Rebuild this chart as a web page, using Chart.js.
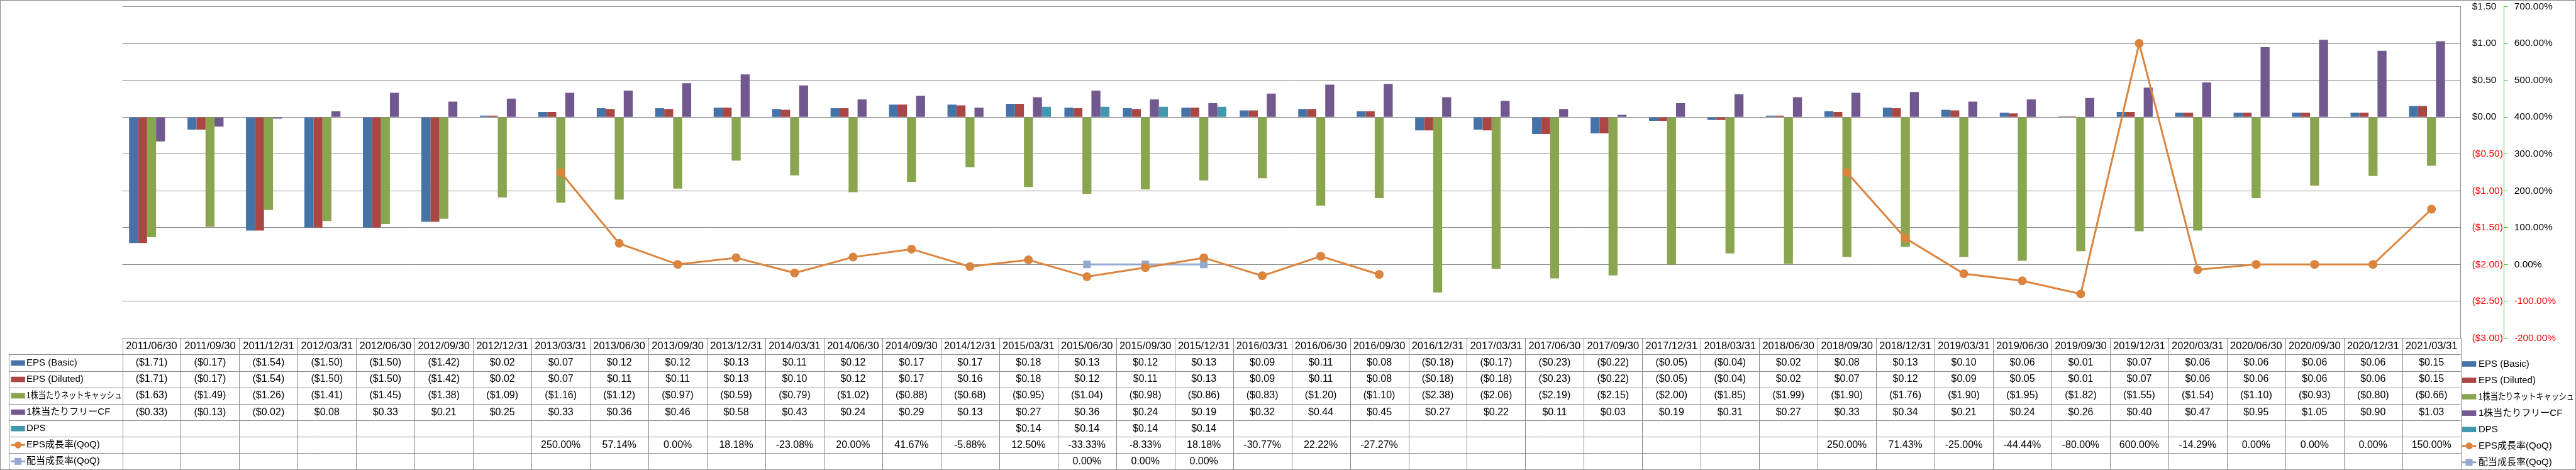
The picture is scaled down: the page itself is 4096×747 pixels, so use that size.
<!DOCTYPE html>
<html>
<head>
<meta charset="utf-8">
<script src="https://cdn.jsdelivr.net/npm/chart.js@4.4.1/dist/chart.umd.min.js"></script>
<style>
    html, body { margin: 0; padding: 0; background: #fff; overflow: hidden; }
    canvas { display: block; }
</style>
</head>
<body>
<canvas id="epsChart" width="4096" height="747"></canvas>
<script>
// ---------------- dados ----------------
const categories = [
    '2011/06/30', '2011/09/30', '2011/12/31',
    '2012/03/31', '2012/06/30', '2012/09/30', '2012/12/31',
    '2013/03/31', '2013/06/30', '2013/09/30', '2013/12/31',
    '2014/03/31', '2014/06/30', '2014/09/30', '2014/12/31',
    '2015/03/31', '2015/06/30', '2015/09/30', '2015/12/31',
    '2016/03/31', '2016/06/30', '2016/09/30', '2016/12/31',
    '2017/03/31', '2017/06/30', '2017/09/30', '2017/12/31',
    '2018/03/31', '2018/06/30', '2018/09/30', '2018/12/31',
    '2019/03/31', '2019/06/30', '2019/09/30', '2019/12/31',
    '2020/03/31', '2020/06/30', '2020/09/30', '2020/12/31',
    '2021/03/31'
];

const epsBasic = [-1.71, -0.17, -1.54, -1.50, -1.50, -1.42, 0.02, 0.07, 0.12, 0.12, 0.13, 0.11, 0.12, 0.17, 0.17, 0.18, 0.13, 0.12, 0.13, 0.09,
    0.11, 0.08, -0.18, -0.17, -0.23, -0.22, -0.05, -0.04, 0.02, 0.08, 0.13, 0.10, 0.06, 0.01, 0.07, 0.06, 0.06, 0.06, 0.06, 0.15];
const epsDiluted = [-1.71, -0.17, -1.54, -1.50, -1.50, -1.42, 0.02, 0.07, 0.11, 0.11, 0.13, 0.10, 0.12, 0.17, 0.16, 0.18, 0.12, 0.11, 0.13, 0.09,
    0.11, 0.08, -0.18, -0.18, -0.23, -0.22, -0.05, -0.04, 0.02, 0.07, 0.12, 0.09, 0.05, 0.01, 0.07, 0.06, 0.06, 0.06, 0.06, 0.15];
const netCashPerShare = [-1.63, -1.49, -1.26, -1.41, -1.45, -1.38, -1.09, -1.16, -1.12, -0.97, -0.59, -0.79, -1.02, -0.88, -0.68, -0.95, -1.04, -0.98, -0.86, -0.83,
    -1.20, -1.10, -2.38, -2.06, -2.19, -2.15, -2.00, -1.85, -1.99, -1.90, -1.76, -1.90, -1.95, -1.82, -1.55, -1.54, -1.10, -0.93, -0.80, -0.66];
const fcfPerShare = [-0.33, -0.13, -0.02, 0.08, 0.33, 0.21, 0.25, 0.33, 0.36, 0.46, 0.58, 0.43, 0.24, 0.29, 0.13, 0.27, 0.36, 0.24, 0.19, 0.32,
    0.44, 0.45, 0.27, 0.22, 0.11, 0.03, 0.19, 0.31, 0.27, 0.33, 0.34, 0.21, 0.24, 0.26, 0.40, 0.47, 0.95, 1.05, 0.90, 1.03];
const dps = [null, null, null, null, null, null, null, null, null, null, null, null, null, null, null, 0.14, 0.14, 0.14, 0.14, null,
    null, null, null, null, null, null, null, null, null, null, null, null, null, null, null, null, null, null, null, null];
const epsGrowth = [null, null, null, null, null, null, null, 250.00, 57.14, 0.00, 18.18, -23.08, 20.00, 41.67, -5.88, 12.50, -33.33, -8.33, 18.18, -30.77,
    22.22, -27.27, null, null, null, null, null, null, null, 250.00, 71.43, -25.00, -44.44, -80.00, 600.00, -14.29, 0.00, 0.00, 0.00, 150.00];
const dpsGrowth = [null, null, null, null, null, null, null, null, null, null, null, null, null, null, null, null, 0.00, 0.00, 0.00, null,
    null, null, null, null, null, null, null, null, null, null, null, null, null, null, null, null, null, null, null, null];

const moneyTicks = { min: -3, max: 1.5, step: 0.5 };
const pctTicks = { min: -200, max: 700, step: 100 };

// ---------------- layout (0.697 da referência) ----------------
const FONT = "'Liberation Sans', 'Noto Sans CJK JP', sans-serif";
const GRID = '#8a8a8a';
const ROW_H = 26.05;
const HEAD_LEFT = 14;

function fmtMoney(v) {
    if (v === null || v === undefined) return '';
    return v < 0 ? '($' + Math.abs(v).toFixed(2) + ')' : '$' + v.toFixed(2);
}
function fmtPct(v) {
    if (v === null || v === undefined) return '';
    return v.toFixed(2) + '%';
}

const series = [
    { label: 'EPS (Basic)', data: epsBasic, color: '#4572A7', kind: 'bar', fmt: fmtMoney },
    { label: 'EPS (Diluted)', data: epsDiluted, color: '#AA4643', kind: 'bar', fmt: fmtMoney },
    { label: '1株当たりネットキャッシュ', data: netCashPerShare, color: '#89A54E', kind: 'bar', fmt: fmtMoney },
    { label: '1株当たりフリーCF', data: fcfPerShare, color: '#71588F', kind: 'bar', fmt: fmtMoney },
    { label: 'DPS', data: dps, color: '#4198AF', kind: 'bar', fmt: fmtMoney },
    { label: 'EPS成長率(QoQ)', data: epsGrowth, color: '#DB843D', kind: 'line', marker: 'circle', fmt: fmtPct },
    { label: '配当成長率(QoQ)', data: dpsGrowth, color: '#93A9CF', kind: 'line', marker: 'rect', fmt: fmtPct }
];

function drawKey(ctx, s, x, y) {
    ctx.save();
    if (s.kind === 'bar') {
        ctx.fillStyle = s.color;
        ctx.fillRect(x, y - 4.3, 22.3, 8.6);
    } else {
        ctx.strokeStyle = s.color;
        ctx.lineWidth = 3;
        ctx.beginPath();
        ctx.moveTo(x, y);
        ctx.lineTo(x + 22.3, y);
        ctx.stroke();
        ctx.fillStyle = s.color;
        if (s.marker === 'circle') {
            ctx.beginPath();
            ctx.arc(x + 11.15, y, 5.5, 0, Math.PI * 2);
            ctx.fill();
        } else {
            ctx.fillRect(x + 5.5, y - 5.5, 11, 11);
        }
    }
    ctx.restore();
}

function drawLabel(ctx, text, x, y) {
    ctx.fillText(text, x, y, 152);
}

const tablePlugin = {
    id: 'dataTable',
    beforeDraw(chart) {
        const ctx = chart.ctx;
        ctx.save();
        ctx.fillStyle = '#fff';
        ctx.fillRect(0, 0, chart.width, chart.height);
        ctx.restore();
    },
    afterDraw(chart) {
        const { ctx, chartArea } = chart;
        const xs = chart.scales.x;
        const n = categories.length;
        const left = chartArea.left, right = chartArea.right;
        const colW = (right - left) / n;
        const top = chartArea.bottom;
        const rows = series.length + 1;
        const bottom = top + rows * ROW_H;
        const px = v => Math.round(v) + 0.5;

        ctx.save();
        ctx.strokeStyle = GRID;
        ctx.lineWidth = 1;
        ctx.beginPath();
        // linhas horizontais
        ctx.moveTo(left, px(top));
        ctx.lineTo(right, px(top));
        for (let r = 1; r <= rows; r++) {
            const y = px(top + r * ROW_H);
            ctx.moveTo(HEAD_LEFT, y);
            ctx.lineTo(right, y);
        }
        // linhas verticais
        for (let i = 0; i <= n; i++) {
            const x = px(left + i * colW);
            ctx.moveTo(x, top);
            ctx.lineTo(x, bottom);
        }
        ctx.moveTo(px(HEAD_LEFT), top + ROW_H);
        ctx.lineTo(px(HEAD_LEFT), bottom);
        ctx.stroke();

        // textos da tabela
        ctx.fillStyle = '#000';
        ctx.textBaseline = 'middle';
        ctx.textAlign = 'center';
        ctx.font = '16.5px ' + FONT;
        categories.forEach((c, i) => {
            ctx.fillText(c, xs.getPixelForValue(i), top + ROW_H / 2 + 0.5, colW - 4);
        });
        ctx.font = '16px ' + FONT;
        series.forEach((s, r) => {
            const cy = top + (r + 1.5) * ROW_H + 0.5;
            s.data.forEach((v, i) => {
                const t = s.fmt(v);
                if (t) ctx.fillText(t, xs.getPixelForValue(i), cy);
            });
        });

        // legenda à esquerda (cabeçalho de linhas) e à direita
        ctx.textAlign = 'left';
        ctx.font = '15px ' + FONT;
        series.forEach((s, r) => {
            const cy = top + (r + 1.5) * ROW_H + 0.5;
            drawKey(ctx, s, 17.5, cy);
            ctx.fillStyle = '#000';
            drawLabel(ctx, s.label, 42, cy);
            drawKey(ctx, s, 3915, cy + 1.5);
            ctx.fillStyle = '#000';
            drawLabel(ctx, s.label, 3941, cy + 1.5);
        });

        // borda externa
        ctx.strokeStyle = GRID;
        ctx.strokeRect(0.5, 0.5, chart.width - 1, chart.height - 1);
        ctx.restore();
    }
};

const datasets = series.map(s => {
    if (s.kind === 'bar') {
        return {
            type: 'bar', label: s.label, data: s.data, yAxisID: 'y',
            backgroundColor: s.color, borderWidth: 0, order: 1
        };
    }
    return {
        type: 'line', label: s.label, data: s.data, yAxisID: 'y1',
        borderColor: s.color, backgroundColor: s.color, borderWidth: 3,
        pointStyle: s.marker, pointRadius: s.marker === 'rect' ? 8.5 : 7,
        pointBackgroundColor: s.color, pointBorderColor: s.color, pointBorderWidth: 0,
        spanGaps: false, tension: 0, order: 0
    };
});

const tickColor = ctx => (ctx.tick && ctx.tick.value < 0 ? '#ff0000' : '#000000');

new Chart(document.getElementById('epsChart'), {
    type: 'bar',
    data: { labels: categories, datasets: datasets },
    plugins: [tablePlugin],
    options: {
        responsive: false,
        animation: false,
        devicePixelRatio: 1,
        datasets: { bar: { categoryPercentage: 0.77, barPercentage: 1.0 } },
        layout: { padding: { left: 194.5, top: 10.5, right: 0, bottom: 209.6 } },
        plugins: { legend: { display: false }, tooltip: { enabled: false } },
        scales: {
            x: { display: false, offset: true },
            y: {
                position: 'right', weight: 1,
                min: moneyTicks.min, max: moneyTicks.max,
                ticks: {
                    stepSize: moneyTicks.step, padding: 18, color: tickColor,
                    font: { family: FONT, size: 15.5 },
                    callback: v => fmtMoney(v)
                },
                grid: { color: GRID, lineWidth: 1, drawTicks: false },
                border: { color: GRID, width: 1 },
                afterFit: s => { s.width = 69; s.paddingTop = 0; s.paddingBottom = 0; }
            },
            y1: {
                position: 'right', weight: 2,
                min: pctTicks.min, max: pctTicks.max,
                ticks: {
                    stepSize: pctTicks.step, padding: 10, color: tickColor,
                    font: { family: FONT, size: 15.5 },
                    callback: v => fmtPct(v)
                },
                grid: { drawOnChartArea: false, color: '#33cc33', tickLength: 6, lineWidth: 1 },
                border: { color: '#33cc33', width: 1, dash: [3, 3] },
                afterFit: s => { s.width = 114.3; s.paddingTop = 0; s.paddingBottom = 0; }
            }
        }
    }
});
</script>
</body>
</html>
